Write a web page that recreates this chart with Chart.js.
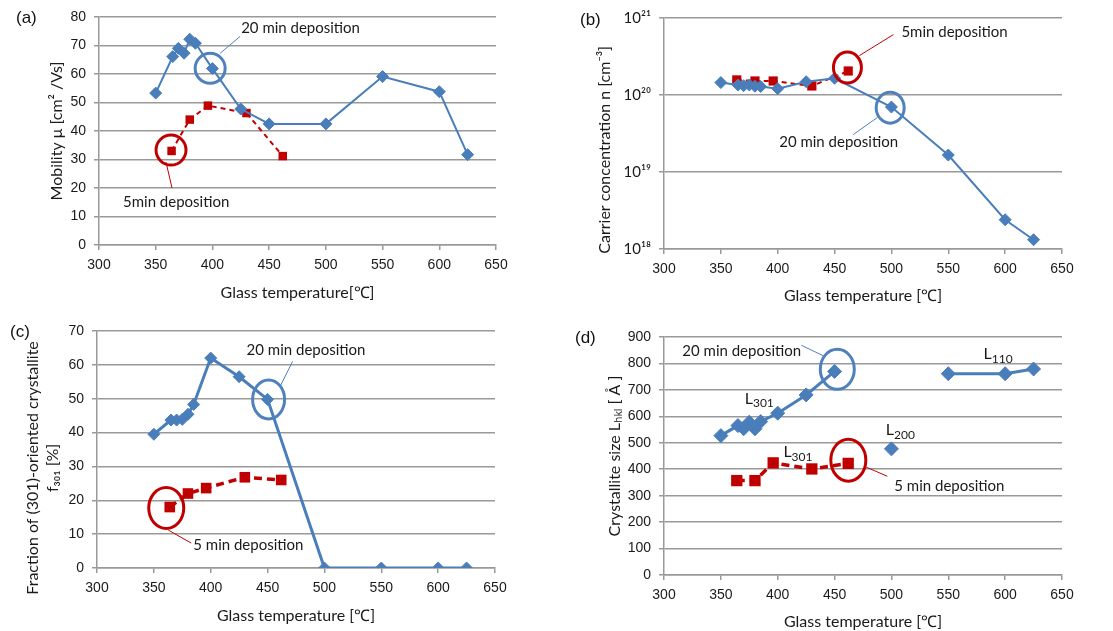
<!DOCTYPE html>
<html>
<head>
<meta charset="utf-8">
<script src="https://cdn.jsdelivr.net/npm/chart.js@4.4.0/dist/chart.umd.min.js"></script>
<style>
  body { margin: 0; background: #fff; width: 1113px; height: 631px; overflow: hidden; position: relative; }
  canvas { position: absolute; }
  .tag { position: absolute; font: 17px 'Liberation Sans', Arial, sans-serif; line-height: 20px; color: #111; }
</style>
</head>
<body>
<canvas id="chartA" width="556" height="305" style="left:0;top:0"></canvas>
<canvas id="chartB" width="557" height="305" style="left:556px;top:0"></canvas>
<canvas id="chartC" width="556" height="326" style="left:0;top:305px"></canvas>
<canvas id="chartD" width="557" height="326" style="left:556px;top:305px"></canvas>
<div class="tag" style="left:16px;top:8px">(a)</div>
<div class="tag" style="left:580px;top:10px">(b)</div>
<div class="tag" style="left:10px;top:322px">(c)</div>
<div class="tag" style="left:575px;top:328px">(d)</div>
<script>
// temperatures (°C)
const tempsLong = [350, 365, 370, 375, 380, 385, 400, 425, 450, 500, 550, 600, 625];
const tempsShort = [364, 380, 396, 430, 462];
const xTicks = [300, 350, 400, 450, 500, 550, 600, 650];

// (a) mobility
const mobility20 = [53.3, 66.1, 69.0, 67.3, 72.2, 70.8, 61.9, 47.7, 42.5, 42.5, 59.1, 53.8, 31.7];
const mobility5 = [33.0, 44.0, 48.9, 46.3, 31.2];

// (b) carrier concentration
const carrier20 = [1.45e20, 1.35e20, 1.32e20, 1.35e20, 1.30e20, 1.29e20, 1.21e20, 1.49e20, 1.65e20, 6.98e19, 1.66e19, 2.4e18, 1.32e18];
const carrier5 = [1.57e20, 1.52e20, 1.52e20, 1.31e20, 2.05e20];
const carrierTicks = [1e18, 1e19, 1e20, 1e21];
const carrierTickLabels = ['10¹⁸', '10¹⁹', '10²⁰', '10²¹'];

// (c) fraction of (301) crystallite
const fraction20 = [39.5, 43.7, 43.7, 43.9, 45.4, 48.3, 62.0, 56.5, 49.8, 0, 0, 0, 0];
const fraction5 = [18.0, 22.0, 23.6, 26.8, 26.0];

// (d) crystallite size
const temps301 = [350, 365, 370, 375, 380, 385, 400, 425, 450];
const size301_20 = [527, 565, 553, 578, 553, 580, 612, 681, 770];
const temps200 = [500];
const size200 = [477];
const temps110 = [550, 600, 625];
const size110 = [761, 761, 779];
const size301_5 = [357, 357, 424, 401, 422];

const BLUE = '#4a7ebb';
const RING_BLUE = '#4f81bd';
const RED = '#c00000';
const GRID = '#999999';
const INK = '#1a1a1a';
const LABEL_FONT = "Lato, 'Open Sans', sans-serif";
const TICK_FONT = "'Liberation Sans', Arial, sans-serif";

const pts = (xs, ys) => xs.map((x, i) => ({ x, y: ys[i] }));
// trailing blanks push a rotated, centred title towards the bottom
const lower = (text, n) => text + '\u00a0'.repeat(n);

function blueSet(xs, ys, w, r) {
  return { data: pts(xs, ys), borderColor: BLUE, backgroundColor: BLUE, borderWidth: w,
    pointStyle: 'rectRot', pointRadius: r, pointBorderWidth: 1, tension: 0 };
}
function redSet(xs, ys, w, r, dash) {
  return { data: pts(xs, ys), borderColor: RED, backgroundColor: RED, borderWidth: w, borderDash: dash,
    pointStyle: 'rect', pointRadius: r, pointBorderWidth: 0, tension: 0 };
}

function xAxis(title, height, pad) {
  return {
    type: 'linear', min: 300, max: 650,
    afterBuildTicks: s => { s.ticks = xTicks.map(v => ({ value: v })); },
    afterFit: s => { s.height = height; },
    grid: { drawOnChartArea: false, drawTicks: true, tickLength: 5, color: GRID, lineWidth: 1.5 },
    border: { color: GRID, width: 1.5 },
    ticks: { color: INK, font: { family: TICK_FONT, size: 14 }, padding: 7, maxRotation: 0 },
    title: { display: true, text: title, color: INK, font: { family: LABEL_FONT, size: 16 }, padding: { top: 0, bottom: pad } }
  };
}
function yAxis(min, max, step, title, width, pad) {
  return {
    min, max, ticks: { stepSize: step, color: INK, font: { family: TICK_FONT, size: 14 }, padding: 8 },
    afterFit: s => { s.width = width; },
    grid: { color: GRID, lineWidth: 1.5, tickLength: 5 },
    border: { color: GRID, width: 1.5 },
    title: { display: true, text: title, color: INK, font: { family: LABEL_FONT, size: 16, lineHeight: 1.25 }, padding: { top: pad, bottom: 0 } }
  };
}

// rings, leader lines and labels, placed on the chart's own scales
const notesPlugin = {
  id: 'notes',
  afterDatasetsDraw(chart, args, opts) {
    const { ctx } = chart;
    const x = chart.scales.x, y = chart.scales.y;
    ctx.save();
    ctx.textBaseline = 'middle';
    ctx.textAlign = 'left';
    (opts.rings || []).forEach(r => {
      const cx = x.getPixelForValue(r.x), cy = y.getPixelForValue(r.y);
      ctx.strokeStyle = r.color;
      ctx.lineWidth = 3;
      ctx.beginPath();
      ctx.ellipse(cx, cy, r.rx, r.ry, 0, 0, Math.PI * 2);
      ctx.stroke();
      ctx.lineWidth = 1;
      ctx.beginPath();
      ctx.moveTo(cx + r.line[0], cy + r.line[1]);
      ctx.lineTo(cx + r.line[2], cy + r.line[3]);
      ctx.stroke();
      ctx.fillStyle = INK;
      ctx.font = '15px ' + LABEL_FONT;
      ctx.fillText(r.text, cx + r.tx, cy + r.ty);
    });
    (opts.tags || []).forEach(t => {
      const px = x.getPixelForValue(t.x), py = y.getPixelForValue(t.y);
      ctx.fillStyle = INK;
      ctx.font = '16px ' + LABEL_FONT;
      ctx.fillText('L', px, py);
      const w = ctx.measureText('L').width;
      ctx.font = '12px ' + LABEL_FONT;
      ctx.fillText(t.sub, px + w, py + 5);
    });
    ctx.restore();
  }
};
Chart.register(notesPlugin);

function makeChart(id, datasets, scales, padding, notes) {
  return new Chart(document.getElementById(id), {
    type: 'line',
    data: { datasets },
    options: {
      responsive: false,
      animation: false,
      layout: { padding },
      scales,
      plugins: { legend: { display: false }, tooltip: { enabled: false }, notes }
    }
  });
}

// (a)
makeChart('chartA',
  [blueSet(tempsLong, mobility20, 2, 6), redSet(tempsShort, mobility5, 2, 6, [5, 4])],
  { x: xAxis('Glass temperature[℃]', 60, 3), y: yAxis(0, 80, 10, 'Mobility μ [cm² /Vs]', 99, 47) },
  { top: 17, right: 60, left: 0, bottom: 0 },
  { rings: [
      { x: 398, y: 62, rx: 15, ry: 15, color: RING_BLUE, line: [10, -15, 30, -32], text: '20 min deposition', tx: 31, ty: -40 },
      { x: 363.5, y: 33.3, rx: 15, ry: 15, color: RED, line: [-5, 12, 1, 38], text: '5min deposition', tx: -48, ty: 52 }
    ] });

// (b)
const yB = yAxis(1e18, 1e21, 1, lower('Carrier concentration n [cm⁻³]', 8), 108, 39);
yB.type = 'logarithmic';
delete yB.ticks.stepSize;
yB.afterBuildTicks = s => { s.ticks = carrierTicks.map(v => ({ value: v })); };
yB.ticks.callback = (v, i) => carrierTickLabels[i];
yB.ticks.font = { family: LABEL_FONT, size: 15 };
makeChart('chartB',
  [blueSet(tempsLong, carrier20, 2, 6), redSet(tempsShort, carrier5, 2, 6.5, [5, 4])],
  { x: xAxis('Glass temperature [℃]', 56, 0), y: yB },
  { top: 18, right: 51, left: 0, bottom: 0 },
  { rings: [
      { x: 461.3, y: 2.27e20, rx: 14, ry: 15.5, color: RED, line: [12, -12, 46, -33], text: '5min deposition', tx: 54, ty: -35 },
      { x: 498.9, y: 6.85e19, rx: 14, ry: 15.5, color: RING_BLUE, line: [-13, 10, -37, 27], text: '20 min deposition', tx: -111, ty: 35 }
    ] });

// (c)
makeChart('chartC',
  [blueSet(tempsLong, fraction20, 3, 6), redSet(tempsShort, fraction5, 3.5, 7.5, [8, 5])],
  { x: xAxis('Glass temperature [℃]', 63, 6),
    y: yAxis(0, 70, 10, [lower('Fraction of (301)-oriented crystallite', 9), lower('f₃₀₁ [%]', 9)], 97, 23) },
  { top: 26, right: 61, left: 0, bottom: 0 },
  { rings: [
      { x: 450.9, y: 49.8, rx: 16, ry: 19.5, color: RING_BLUE, line: [12, -14, 24, -38], text: '20 min deposition', tx: -22, ty: -49 },
      { x: 360.9, y: 17.7, rx: 17.5, ry: 20.5, color: RED, line: [2, 22, 25, 35], text: '5 min deposition', tx: 27, ty: 37 }
    ] });

// (d)
makeChart('chartD',
  [blueSet(temps301, size301_20, 3, 7), blueSet(temps200, size200, 3, 7), blueSet(temps110, size110, 3, 7),
   redSet(tempsShort, size301_5, 3.5, 8, [8, 5])],
  { x: xAxis('Glass temperature [℃]', 56, 0), y: yAxis(0, 900, 100, 'Crystallite size Lₕₖₗ [ Å ]', 108, 49) },
  { top: 32, right: 51, left: 0, bottom: 0 },
  { rings: [
      { x: 452.4, y: 778, rx: 17, ry: 20, color: RING_BLUE, line: [-13, -13, -36, -24], text: '20 min deposition', tx: -155, ty: -18 },
      { x: 462.1, y: 434, rx: 17.5, ry: 21, color: RED, line: [18, 7, 39, 16], text: '5 min deposition', tx: 46, ty: 26 }
    ],
    tags: [
      { x: 371, y: 667, sub: '301' },
      { x: 405, y: 466, sub: '301' },
      { x: 495, y: 548, sub: '200' },
      { x: 581, y: 837, sub: '110' }
    ] });
</script>
</body>
</html>
